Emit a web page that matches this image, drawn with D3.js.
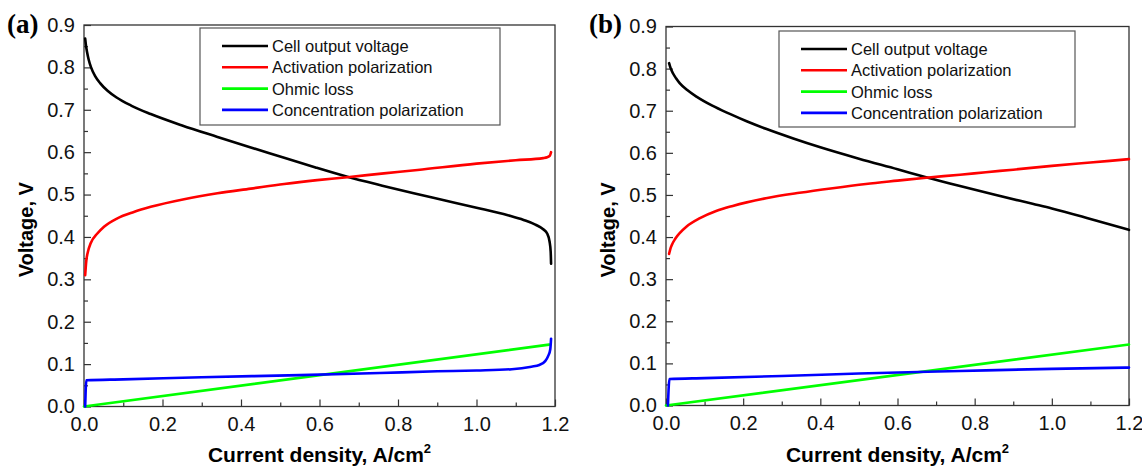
<!DOCTYPE html>
<html>
<head>
<meta charset="utf-8">
<script src="https://cdn.jsdelivr.net/npm/d3@7"></script>
<style>
  body { margin: 0; background: #fff; }
  svg { display: block; font-family: Arial, "Liberation Sans", sans-serif; }
</style>
</head>
<body>
<div id="chart"></div>
<script>
// series names + colours, shared by both panels
const seriesNames = ["Cell output voltage", "Activation polarization", "Ohmic loss", "Concentration polarization"];
const seriesColors = ["#000000", "#ff0000", "#00ff00", "#0000ff"];

const xTicks = [0, 0.2, 0.4, 0.6, 0.8, 1.0, 1.2];
const yTicks = [0, 0.1, 0.2, 0.3, 0.4, 0.5, 0.6, 0.7, 0.8, 0.9];

// panel (a): [current density, voltage]
const cellA = [[0.003,0.868],[0.005,0.852],[0.008,0.835],[0.012,0.818],[0.018,0.800],[0.028,0.780],[0.041,0.763],
  [0.06,0.745],[0.083,0.729],[0.12,0.710],[0.17,0.690],[0.25,0.663],[0.34,0.636],[0.425,0.611],[0.51,0.587],
  [0.59,0.564],[0.671,0.542],[0.76,0.521],[0.84,0.503],[0.92,0.486],[1.0,0.469],[1.08,0.451],[1.12,0.440],
  [1.15,0.429],[1.17,0.418],[1.18,0.408],[1.186,0.39],[1.189,0.365],[1.19,0.337]];
const actA = [[0.003,0.31],[0.006,0.345],[0.01,0.365],[0.017,0.385],[0.034,0.408],[0.051,0.424],[0.085,0.444],[0.127,0.459],
  [0.17,0.471],[0.255,0.489],[0.34,0.503],[0.425,0.514],[0.51,0.525],[0.594,0.534],[0.671,0.541],[0.764,0.55],[0.85,0.558],
  [1.0,0.573],[1.1,0.581],[1.17,0.586],[1.18,0.588],[1.187,0.592],[1.19,0.60]];
const ohmA = [[0,0],[1.185,0.146]];
const concA = [[0.003,0],[0.006,0.062],[0.1,0.064],[0.3,0.069],[0.55,0.074],[0.754,0.079],[0.9,0.083],[1.0,0.085],
  [1.09,0.088],[1.14,0.094],[1.16,0.098],[1.175,0.107],[1.183,0.12],[1.188,0.135],[1.19,0.16]];

// panel (b)
const cellB = [[0.008,0.813],[0.012,0.801],[0.018,0.789],[0.026,0.777],[0.036,0.765],[0.055,0.749],[0.08,0.733],
  [0.12,0.712],[0.164,0.693],[0.209,0.675],[0.259,0.657],[0.33,0.634],[0.4,0.613],[0.5,0.586],[0.6,0.561],[0.674,0.542],
  [0.762,0.521],[0.85,0.501],[0.95,0.479],[1.0,0.468],[1.1,0.443],[1.2,0.417]];
const actB = [[0.008,0.36],[0.011,0.371],[0.016,0.383],[0.024,0.396],[0.036,0.41],[0.052,0.424],[0.088,0.445],[0.13,0.462],
  [0.173,0.474],[0.259,0.492],[0.346,0.505],[0.432,0.516],[0.518,0.526],[0.6,0.534],[0.674,0.541],[0.762,0.548],
  [0.829,0.554],[0.9,0.56],[1.0,0.569],[1.1,0.577],[1.2,0.585]];
const ohmB = [[0,0],[1.2,0.145]];
const concB = [[0.005,0],[0.009,0.063],[0.1,0.065],[0.3,0.07],[0.5,0.076],[0.762,0.082],[1.0,0.087],[1.2,0.09]];

const W = 1142, H = 467;
const svg = d3.select("#chart").append("svg").attr("width", W).attr("height", H);

function drawPanel({ label, series, x0, x1, y0, y1, legend, labelX }) {
  const x = d3.scaleLinear().domain([0, 1.2]).range([x0, x1]);
  const y = d3.scaleLinear().domain([0, 0.9]).range([y0, y1]);
  const g = svg.append("g");

  // minor ticks
  g.append("g").attr("transform", `translate(0,${y0})`)
    .call(d3.axisBottom(x).tickValues(d3.range(0.1, 1.2, 0.2)).tickSize(-4).tickFormat(""))
    .call(s => s.select(".domain").remove());
  g.append("g").attr("transform", `translate(${x0},0)`)
    .call(d3.axisLeft(y).tickValues(d3.range(0.05, 0.9, 0.1)).tickSize(-4).tickFormat(""))
    .call(s => s.select(".domain").remove());

  // major ticks
  const xa = g.append("g").attr("transform", `translate(0,${y0})`)
    .call(d3.axisBottom(x).tickValues(xTicks).tickSize(-7).tickPadding(10).tickFormat(d3.format(".1f")));
  const ya = g.append("g").attr("transform", `translate(${x0},0)`)
    .call(d3.axisLeft(y).tickValues(yTicks).tickSize(-7).tickPadding(9).tickFormat(d3.format(".1f")));
  [xa, ya].forEach(a => {
    a.select(".domain").remove();
    a.selectAll("text").attr("font-size", 20).attr("fill", "#111").attr("font-family", "Arial, 'Liberation Sans', sans-serif");
  });
  g.selectAll(".tick line").attr("stroke", "#333").attr("stroke-width", 1.2);

  // frame
  g.append("rect").attr("x", x0).attr("y", y1).attr("width", x1 - x0).attr("height", y0 - y1)
    .attr("fill", "none").attr("stroke", "#333").attr("stroke-width", 1.3);

  // curves
  const line = d3.line().x(d => x(d[0])).y(d => y(d[1])).curve(d3.curveMonotoneX);
  series.forEach((s, i) => {
    g.append("path").datum(s).attr("d", line)
      .attr("fill", "none").attr("stroke", seriesColors[i]).attr("stroke-width", 2.6)
      .attr("stroke-linejoin", "round").attr("stroke-linecap", "round");
  });

  // axis titles
  g.append("text").attr("transform", `translate(${x0 - 51},${(y0 + y1) / 2 + 14}) rotate(-90)`)
    .attr("text-anchor", "middle").attr("font-weight", "bold").attr("font-size", 20).text("Voltage, V");
  const xt = g.append("text").attr("x", (x0 + x1) / 2).attr("y", 462)
    .attr("text-anchor", "middle").attr("font-weight", "bold").attr("font-size", 21);
  xt.append("tspan").text("Current density, A/cm");
  xt.append("tspan").attr("font-size", 13).attr("dy", -9).text("2");

  // panel label
  g.append("text").attr("x", labelX).attr("y", 33).attr("font-family", "'Liberation Serif', 'Times New Roman', serif")
    .attr("font-weight", "bold").attr("font-size", 27).text(label);

  // legend
  const lg = g.append("g");
  lg.append("rect").attr("x", legend.x).attr("y", legend.y).attr("width", legend.w).attr("height", legend.h)
    .attr("fill", "#fff").attr("stroke", "#555").attr("stroke-width", 1.2);
  seriesNames.forEach((n, i) => {
    const cy = legend.y + 18 + i * 21.3;
    lg.append("line").attr("x1", legend.x + 22).attr("x2", legend.x + 68).attr("y1", cy).attr("y2", cy)
      .attr("stroke", seriesColors[i]).attr("stroke-width", 2.6);
    lg.append("text").attr("x", legend.x + 72).attr("y", cy).attr("dy", "0.36em")
      .attr("font-size", 16.5).attr("fill", "#111").text(n);
  });
}

drawPanel({ label: "(a)", series: [cellA, actA, ohmA, concA], x0: 84, x1: 555, y0: 406.5, y1: 25,
  legend: { x: 200, y: 28, w: 300, h: 97 }, labelX: 7 });
drawPanel({ label: "(b)", series: [cellB, actB, ohmB, concB], x0: 666, x1: 1129, y0: 405.5, y1: 26.5,
  legend: { x: 779, y: 31, w: 296, h: 96 }, labelX: 589 });
</script>
</body>
</html>
